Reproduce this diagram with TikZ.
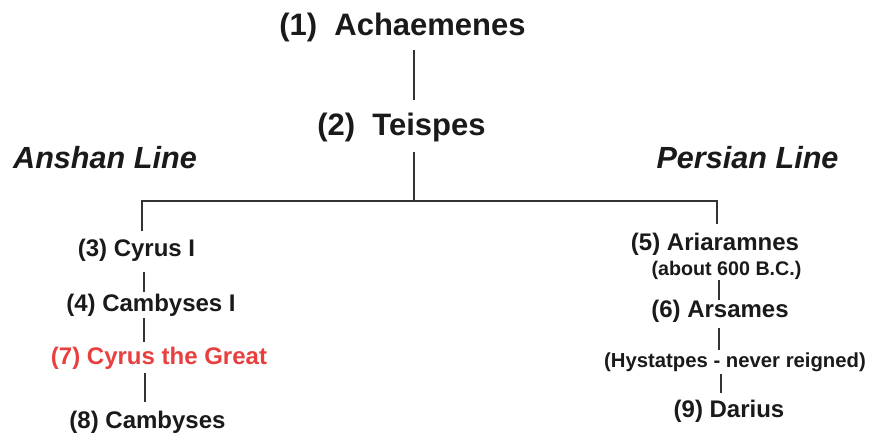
\documentclass[tikz,border=0pt]{standalone}
\usepackage{fontspec}
\setmainfont{Liberation Sans}
\definecolor{txt}{HTML}{1A1A1A}
\definecolor{redtxt}{HTML}{E8403F}
\definecolor{ln}{HTML}{333333}
\begin{document}
\begin{tikzpicture}[x=1pt,y=-1pt,
  lbl/.style={anchor=base,inner sep=0pt,text=txt,font=\bfseries},
  title/.style={lbl,font=\fontsize{31}{31}\selectfont\bfseries},
  linelbl/.style={lbl,font=\fontsize{30.6}{31}\selectfont\bfseries\itshape},
  person/.style={lbl,font=\fontsize{24}{24}\selectfont\bfseries},
  small/.style={lbl,font=\fontsize{20.3}{20}\selectfont\bfseries},
  conn/.style={draw=ln,line width=1.7pt}]
\useasboundingbox[fill=white] (0,0) rectangle (874,434);

\node[title] (achaemenes) at (402.5,35) {(1)\ \ Achaemenes};
\node[title] (teispes) at (401.5,135) {(2)\ \ Teispes};
\node[linelbl] (anshan) at (105,168) {Anshan Line};
\node[linelbl] (persian) at (747.5,168) {Persian Line};

\node[person] (cyrusI) at (136.5,256) {(3) Cyrus I};
\node[person] (cambysesI) at (151,311) {(4) Cambyses I};
\node[person,text=redtxt] (cyrusG) at (159,364) {(7) Cyrus the Great};
\node[person] (cambyses) at (147.5,428) {(8) Cambyses};

\node[person] (ariaramnes) at (715,250) {(5) Ariaramnes};
\node[small,font=\fontsize{19.7}{20}\selectfont\bfseries] (about) at (726.5,275) {(about 600 B.C.)};
\node[person] (arsames) at (720,317) {(6) Arsames};
\node[small] (hystatpes) at (735,367) {(Hystatpes - never reigned)};
\node[person] (darius) at (729,417) {(9) Darius};

% connector end points
\coordinate (a1) at (414,50);  \coordinate (a2) at (414,100);
\coordinate (t1) at (414,152); \coordinate (t2) at (414,201);
\coordinate (hl) at (142,201); \coordinate (hr) at (717,201);
\coordinate (ld) at (142,231); \coordinate (rd) at (717,224);
\coordinate (l1a) at (144,272); \coordinate (l1b) at (144,292);
\coordinate (l2a) at (144,318); \coordinate (l2b) at (144,342);
\coordinate (l3a) at (145,373); \coordinate (l3b) at (145,402);
\coordinate (r1a) at (719,280); \coordinate (r1b) at (719,300);
\coordinate (r2a) at (719,328); \coordinate (r2b) at (719,350);
\coordinate (r3a) at (721,374); \coordinate (r3b) at (721,393);

\draw[conn] (a1) -- (a2);
\draw[conn] (t1) -- (t2);
\draw[conn] (ld) -- (hl) -- (hr) -- (rd);
\draw[conn] (l1a) -- (l1b);
\draw[conn] (l2a) -- (l2b);
\draw[conn] (l3a) -- (l3b);
\draw[conn] (r1a) -- (r1b);
\draw[conn] (r2a) -- (r2b);
\draw[conn] (r3a) -- (r3b);
\end{tikzpicture}
\end{document}
